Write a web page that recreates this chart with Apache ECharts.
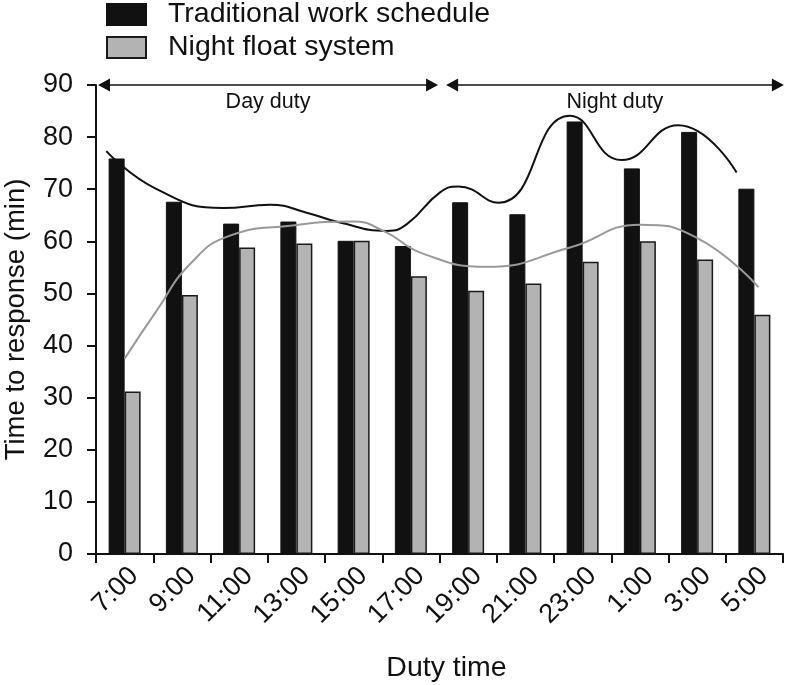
<!DOCTYPE html>
<html>
<head>
<meta charset="utf-8">
<script src="https://cdn.jsdelivr.net/npm/echarts@6/dist/echarts.min.js"></script>
<style>html,body{margin:0;padding:0;background:#fff}#c{width:785px;height:685px}</style>
</head>
<body>
<div id="c"></div>
<script>
var categories = ['7:00','9:00','11:00','13:00','15:00','17:00','19:00','21:00','23:00','1:00','3:00','5:00'];
var traditional = [75.9, 67.6, 63.4, 63.8, 60.1, 59.1, 67.5, 65.2, 83.0, 74.0, 81.0, 70.1];
var nightFloat = [31.2, 49.7, 58.8, 59.6, 60.1, 53.3, 50.5, 51.9, 56.1, 60.0, 56.5, 45.9];
var traditionalTrend = [[0.18,77.3],[1.06,70.0],[2.22,66.4],[3.04,67.0],[3.68,65.5],[4.26,63.6],[5.08,62.0],[5.43,63.3],[6.01,69.4],[6.33,70.5],[7.03,67.4],[8.28,84.1],[9.18,75.6],[10.17,82.3],[11.19,73.2]];
var nightFloatTrend = [[0.5,37.5],[1.06,46.7],[1.64,55.6],[2.34,61.1],[3.39,63.0],[4.49,63.8],[5.02,62.0],[5.72,57.6],[6.82,55.1],[8.28,58.8],[9.5,63.2],[10.49,60.7],[11.57,51.2]];
var periods = [{name:'Day duty', from:0.14, to:5.87}, {name:'Night duty', from:6.22, to:11.91}];
var yTicks = [0,10,20,30,40,50,60,70,80,90];

var FONT = '"Liberation Sans", Arial, Helvetica, sans-serif';
var chart = echarts.init(document.getElementById('c'), null, {renderer:'canvas'});

var periodLines = periods.map(function(p){
  return [{coord:[p.from, yTicks[yTicks.length-1]], name:p.name},{coord:[p.to, yTicks[yTicks.length-1]]}];
});

chart.setOption({
  backgroundColor:'#fff',
  animation:false,
  textStyle:{fontFamily:FONT},
  legend:{
    data:[{name:'Traditional work schedule', icon:'rect'},{name:'Night float system', icon:'rect'}],
    orient:'vertical', left:106, top:0, padding:0,
    itemWidth:39, itemHeight:21, itemGap:4,
    textStyle:{fontSize:28.5, color:'#111', fontFamily:FONT, padding:[0,0,0,17]}
  },
  grid:{left:96, right:2, top:85, bottom:131, containLabel:false, outerBoundsMode:'none'},
  xAxis:[{
    type:'category', data:categories, boundaryGap:true,
    name:'Duty time', nameLocation:'middle', nameGap:100,
    nameTextStyle:{fontSize:28.5, color:'#111', fontFamily:FONT, padding:[0,0,0,14]},
    axisLine:{lineStyle:{color:'#111', width:2}},
    axisTick:{show:true, length:9, lineStyle:{color:'#111', width:2}, alignWithLabel:false},
    axisLabel:{rotate:45, fontSize:27, color:'#111', margin:8, verticalAlign:'top', fontFamily:FONT, interval:0},
    splitLine:{show:false}
  },{
    type:'value', min:0, max:12, show:false
  }],
  yAxis:{
    type:'value', min:yTicks[0], max:yTicks[yTicks.length-1], interval:10,
    name:'Time to response (min)', nameLocation:'middle', nameGap:66, nameRotate:90,
    nameTextStyle:{fontSize:27.5, color:'#111', fontFamily:FONT},
    axisLine:{show:true, lineStyle:{color:'#111', width:2}},
    axisTick:{show:true, length:9, lineStyle:{color:'#111', width:2}},
    axisLabel:{fontSize:27, color:'#111', margin:23, fontFamily:FONT},
    splitLine:{show:false}
  },
  series:[{
    name:'Traditional work schedule', type:'bar', data:traditional,
    barWidth:16, barGap:'0%',
    itemStyle:{color:'#111', borderColor:'#111', borderWidth:1}
  },{
    name:'Night float system', type:'bar', data:nightFloat,
    barWidth:16, barGap:'0%',
    itemStyle:{color:'#b3b3b3', borderColor:'#1a1a1a', borderWidth:1.5}
  },{
    name:'trendTraditional', type:'line', xAxisIndex:1, data:traditionalTrend,
    smooth:0.5, symbol:'none', lineStyle:{color:'#111', width:2}, z:5,
    markLine:{
      silent:true, symbol:['triangle','triangle'], symbolSize:[13,12],
      lineStyle:{color:'#111', width:1.5, type:'solid'},
      label:{show:true, position:'insideMiddleBottom', formatter:'{b}', fontSize:21.5, color:'#111', fontFamily:FONT, distance:6},
      data:periodLines
    }
  },{
    name:'trendNight', type:'line', xAxisIndex:1, data:nightFloatTrend,
    smooth:0.5, symbol:'none', lineStyle:{color:'#999', width:2}, z:5
  }]
});
</script>
</body>
</html>
